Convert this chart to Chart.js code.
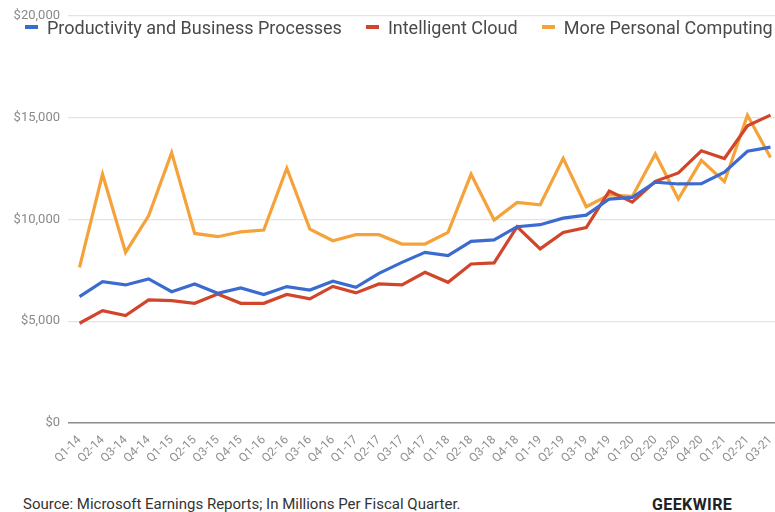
<!DOCTYPE html>
<html>
<head>
<meta charset="utf-8">
<script src="https://cdn.jsdelivr.net/npm/chart.js@4"></script>
<style>
    html, body { margin: 0; padding: 0; background: #fff; overflow: hidden; }
    body { width: 775px; height: 512px; position: relative; font-family: Roboto, Arial, sans-serif; }
    .wrap { position: absolute; left: 0; top: 0; width: 790px; height: 480px; }
    .legend { position: absolute; top: 17px; left: 25px; white-space: nowrap; font-size: 18px; color: #4a4a4a; }
    .legend span.item { display: inline-block; margin-right: 24px; }
    .legend span.mark { display: inline-block; width: 13px; height: 4px; margin-right: 9px; vertical-align: middle; position: relative; top: -2px; }
    .source { position: absolute; left: 23px; top: 495px; font-size: 15px; color: #333; }
    .brand { position: absolute; left: 652px; top: 495px; font-size: 16px; font-weight: bold; color: #222; letter-spacing: 0.4px; }
</style>
</head>
<body>
<div class="wrap"><canvas id="myChart"></canvas></div>
<div class="legend" id="legend"></div>
<div class="source">Source: Microsoft Earnings Reports; In Millions Per Fiscal Quarter.</div>
<div class="brand">GEEKWIRE</div>
<script>
document.addEventListener('DOMContentLoaded', function () {

    ////////////////////////////  DATOS  ////////////////////////////

    const quarters = ['Q1-14', 'Q2-14', 'Q3-14', 'Q4-14', 'Q1-15', 'Q2-15', 'Q3-15', 'Q4-15',
        'Q1-16', 'Q2-16', 'Q3-16', 'Q4-16', 'Q1-17', 'Q2-17', 'Q3-17', 'Q4-17',
        'Q1-18', 'Q2-18', 'Q3-18', 'Q4-18', 'Q1-19', 'Q2-19', 'Q3-19', 'Q4-19',
        'Q1-20', 'Q2-20', 'Q3-20', 'Q4-20', 'Q1-21', 'Q2-21', 'Q3-21'];

    const productivity = [6210, 6940, 6780, 7075, 6450, 6830, 6370, 6630,
        6310, 6700, 6530, 6960, 6660, 7350, 7890, 8380,
        8220, 8920, 8990, 9640, 9740, 10060, 10210, 11000,
        11080, 11830, 11740, 11750, 12320, 13350, 13550];

    const cloud = [4900, 5520, 5280, 6050, 6010, 5880, 6340, 5880,
        5880, 6310, 6100, 6710, 6390, 6830, 6780, 7400,
        6910, 7810, 7860, 9640, 8550, 9360, 9600, 11390,
        10850, 11870, 12280, 13370, 12990, 14600, 15120];

    const personal = [7640, 12220, 8380, 10180, 13280, 9310, 9150, 9390,
        9480, 12510, 9520, 8950, 9250, 9250, 8790, 8790,
        9360, 12220, 9970, 10830, 10720, 13000, 10620, 11210,
        11130, 13210, 11000, 12900, 11850, 15120, 13040];

    const yTicks = [0, 5000, 10000, 15000, 20000];

    const seriesNames = ['Productivity and Business Processes', 'Intelligent Cloud', 'More Personal Computing'];
    const seriesColors = ['#3c6bd0', '#d1452b', '#f5a23a'];

    ////////////////////////////  GRÁFICO  ////////////////////////////

    const chartCanvas = document.getElementById('myChart');

    const datasets = [productivity, cloud, personal].map(function (values, i) {
        return {
            label: seriesNames[i],
            data: values,
            borderColor: seriesColors[i],
            backgroundColor: seriesColors[i],
            borderWidth: 3.2,
            pointRadius: 0,
            tension: 0,
            borderJoinStyle: 'miter'
        };
    });

    const chartConfig = {
        type: 'line',
        data: { labels: quarters, datasets: datasets },
        options: {
            responsive: true,
            maintainAspectRatio: false,
            animation: false,
            layout: { padding: { top: 15, left: 0, right: 8, bottom: 0 } },
            plugins: {
                legend: { display: false },
                tooltip: { enabled: false }
            },
            scales: {
                x: {
                    offset: true,
                    grid: { display: false },
                    border: { display: false },
                    ticks: {
                        autoSkip: false,
                        maxRotation: 45,
                        minRotation: 45,
                        color: '#8f8f8f',
                        padding: 2,
                        font: { family: 'Roboto', size: 12 }
                    },
                    afterFit: function (scale) { scale.height = 57; }
                },
                y: {
                    min: 0,
                    max: 20000,
                    border: { display: false },
                    grid: {
                        drawTicks: false,
                        lineWidth: function (ctx) { return ctx.tick.value === 0 ? 1.6 : 1.2; },
                        color: function (ctx) { return ctx.tick.value === 0 ? '#8c8c8c' : '#e3e3e3'; }
                    },
                    afterBuildTicks: function (scale) {
                        scale.ticks = yTicks.map(function (v) { return { value: v }; });
                    },
                    ticks: {
                        color: '#8a8a8a',
                        padding: 8,
                        font: { family: 'Roboto', size: 13 },
                        callback: function (v) { return '$' + v.toLocaleString('en-US'); }
                    },
                    afterFit: function (scale) { scale.width = 68; }
                }
            }
        }
    };

    const myChart = new Chart(chartCanvas, chartConfig);

    ////////////////////////////  LEYENDA  ////////////////////////////

    const legend = document.getElementById('legend');
    datasets.forEach(function (ds) {
        const item = document.createElement('span');
        item.className = 'item';
        const mark = document.createElement('span');
        mark.className = 'mark';
        mark.style.background = ds.borderColor;
        item.appendChild(mark);
        item.appendChild(document.createTextNode(ds.label));
        legend.appendChild(item);
    });

});
</script>
</body>
</html>
